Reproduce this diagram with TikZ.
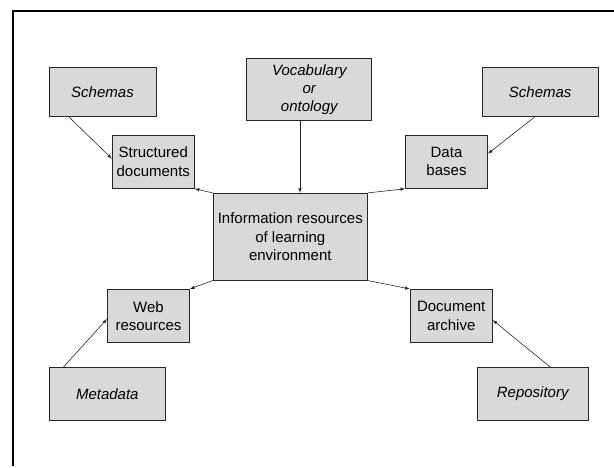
\documentclass[tikz,border=0pt]{standalone}
\usepackage{fontspec}
\setmainfont{Liberation Sans}

\begin{document}
\begin{tikzpicture}[x=1pt,y=-1pt,
        box/.style={draw=black!85,fill=black!15,line width=0.9pt,align=center,inner sep=0pt,
            font=\fontsize{15}{18.2}\selectfont},
        src/.style={box,font=\fontsize{15}{18.2}\selectfont\itshape},
        arr/.style={->,>=latex,line width=0.6pt,black!85}]
        \useasboundingbox (0,0) rectangle (614,467);
        \draw[line width=2pt] (614,11) -- (12.5,11) -- (12.5,466);

        \node[box,minimum width=154pt,minimum height=86.7pt] (info) at (290.3,236.7)
            {Information resources\\of learning\\environment};
        \node[box,minimum width=82pt,minimum height=53.3pt] (struct) at (153.3,161.7) {Structured\\documents};
        \node[box,minimum width=82pt,minimum height=53.3pt] (data) at (446.5,161.7) {Data\\bases};
        \node[box,minimum width=82pt,minimum height=53.3pt] (web) at (148.5,316) {Web\\resources};
        \node[box,minimum width=82pt,minimum height=53.3pt] (doc) at (451.2,316) {Document\\archive};

        \node[src,minimum width=107pt,minimum height=48.7pt] (schL) at (102.5,91.7) {Schemas};
        \node[src,minimum width=125pt,minimum height=62.4pt] (vocab) at (309.3,89.5) {Vocabulary\\or\\ontology};
        \node[src,minimum width=115.7pt,minimum height=48.7pt] (schR) at (540.2,91.7) {Schemas};
        \node[src,minimum width=116pt,minimum height=52.7pt] (meta) at (107.3,393.7) {Metadata};
        \node[src,minimum width=110.7pt,minimum height=52.7pt] (repo) at (532.7,393.7) {Repository};

        \foreach \a/\b in {north west/struct.south east, north east/data.south west,
                south west/web.north east, south east/doc.north west}
            \draw[arr] (info.\a) -- (\b);
        \draw[arr] ([xshift=-9.3]vocab.south) -- ([xshift=-9.3]vocab.south |- info.north);
        \draw[arr] ([xshift=20]schL.south west) -- ([yshift=3]struct.west);
        \draw[arr] ([xshift=-5]schR.south) -- ([yshift=8]data.east);
        \draw[arr] ([xshift=14.7]meta.north west) -- ([yshift=-3]web.west);
        \draw[arr] ([xshift=17.3]repo.north) -- ([yshift=-4]doc.east);
\end{tikzpicture}
\end{document}
